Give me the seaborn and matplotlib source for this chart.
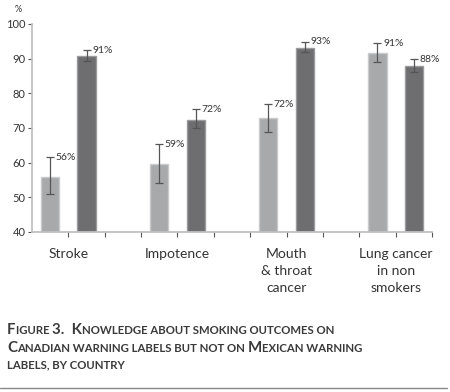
import numpy as np
import pandas as pd
import seaborn as sns
import matplotlib
matplotlib.use("Agg")
import matplotlib.pyplot as plt
from matplotlib.offsetbox import TextArea, HPacker, VPacker, AnnotationBbox
from matplotlib.ticker import FixedLocator

# ---- data ----
categories = ["Stroke", "Impotence", "Mouth\n& throat\ncancer", "Lung cancer\nin non\nsmokers"]
countries = ["Mexico", "Canada"]
mexico = [56, 59.5, 72.8, 91.5]
canada = [90.8, 72.3, 93.0, 87.9]
mexico_lo = [50.9, 54.0, 68.9, 88.9]
mexico_hi = [61.5, 65.3, 76.8, 94.4]
canada_lo = [89.2, 69.9, 91.8, 86.2]
canada_hi = [92.4, 75.4, 94.9, 89.8]
mexico_labels = ["56%", "59%", "72%", "91%"]
canada_labels = ["91%", "72%", "93%", "88%"]
y_ticks = [40, 50, 60, 70, 80, 90, 100]

df = pd.DataFrame({
    "outcome": categories * 2,
    "country": [countries[0]] * 4 + [countries[1]] * 4,
    "pct": mexico + canada,
})

sns.set_theme(style="white")
plt.rcParams["font.family"] = ["Lato", "DejaVu Sans"]

fig = plt.figure(figsize=(4.5, 3.92), dpi=100)
ax = fig.add_axes([32 / 450, 1 - 232 / 392, 400 / 450, 208 / 392])

light, dark = "#a7a9ac", "#6d6e71"
sns.barplot(data=df, x="outcome", y="pct", hue="country", order=categories,
            hue_order=countries, palette=[light, dark], width=2 / 3, gap=0.5,
            legend=False, ax=ax, linewidth=1)

edge_cols = ["#c9cacc", "#9a9b9d"]
err_sets = [(mexico, mexico_lo, mexico_hi, mexico_labels),
            (canada, canada_lo, canada_hi, canada_labels)]
for cont, ec, (vals, lo, hi, labs) in zip(ax.containers, edge_cols, err_sets):
    xs = []
    for p in cont.patches:
        p.set_edgecolor(ec)
        xs.append(p.get_x() + p.get_width() / 2)
    xs = np.array(xs)
    vals = np.array(vals)
    yerr = np.vstack([vals - np.array(lo), np.array(hi) - vals])
    ax.errorbar(xs, vals, yerr=yerr, fmt="none", ecolor="#555555",
                elinewidth=0.9, capsize=3, capthick=0.9, zorder=5)
    for x, h, t in zip(xs, hi, labs):
        ax.annotate(t, (x, h), xytext=(4, 0), textcoords="offset points",
                    ha="left", va="center", fontsize=7.5, color="#333333")

ax.set_xlim(-1 / 3, 3 + 1 / 3)
ax.set_ylim(40, 100)
ax.set_yticks(y_ticks)
ax.set_xlabel("")
ax.set_ylabel("")
ax.xaxis.set_minor_locator(FixedLocator([k / 3 for k in range(1, 11) if k % 3 != 0]))
ax.tick_params(axis="x", which="both", direction="out", length=3.5, width=0.8,
               color="#555555", bottom=True, labelsize=10, labelcolor="#333333", pad=8)
ax.tick_params(axis="y", which="major", direction="out", length=3, width=0.8,
               color="#555555", left=True, labelsize=8, labelcolor="#333333", pad=1.5)
for lbl in ax.get_xticklabels():
    lbl.set_linespacing(1.5)
for s in ["top", "right"]:
    ax.spines[s].set_visible(False)
for s in ["left", "bottom"]:
    ax.spines[s].set_color("#c0c0c0")
    ax.spines[s].set_linewidth(1.3)

fig.text(18 / 450, 1 - 10 / 392, "%", fontsize=6.5, color="#333333",
         ha="center", va="center")

# ---- caption in small caps ----
caption_lines = ["Figure 3.  Knowledge about smoking outcomes on",
                 "Canadian warning labels but not on Mexican warning",
                 "labels, by country"]
cap_color = "#3a3a3a"


def small_caps_line(line):
    runs = []
    cur, cur_big = "", None
    for ch in line:
        big = ch.isupper() or ch.isdigit()
        if ch in " .,":
            big = cur_big if cur_big is not None else False
        if cur_big is None or big == cur_big:
            cur += ch
            cur_big = big
        else:
            runs.append((cur, cur_big))
            cur, cur_big = ch, big
    if cur:
        runs.append((cur, cur_big))
    children = []
    for txt, big in runs:
        children.append(TextArea(txt.upper(), textprops=dict(
            fontsize=10.8 if big else 8.2, fontweight="bold", color=cap_color,
            family=["Lato", "DejaVu Sans"])))
    return HPacker(children=children, align="baseline", pad=0, sep=0)


box = VPacker(children=[small_caps_line(l) for l in caption_lines],
              align="left", pad=0, sep=3)
ab = AnnotationBbox(box, (7 / 450, 1 - 323 / 392), xycoords="figure fraction",
                    box_alignment=(0, 1), frameon=False, pad=0)
fig.add_artist(ab)

fig.add_artist(plt.Line2D([0, 447 / 450], [1 - 388 / 392] * 2,
                          transform=fig.transFigure, color="#888888", lw=1))

fig.savefig("out.png", dpi=100)
